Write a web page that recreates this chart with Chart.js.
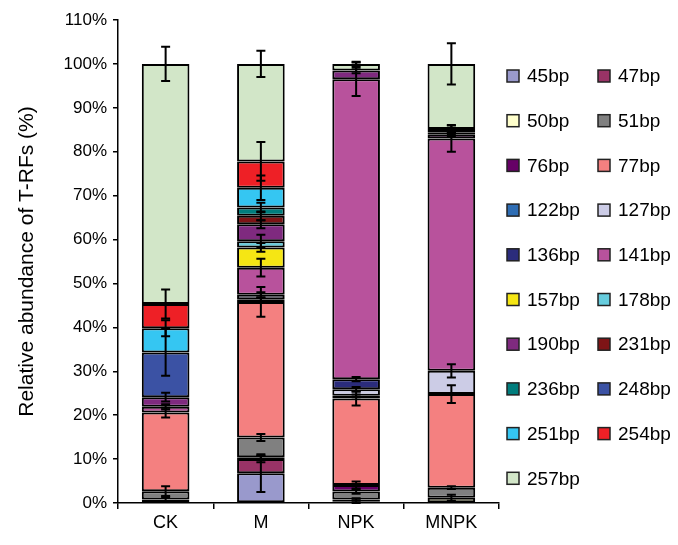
<!DOCTYPE html>
<html>
<head>
<meta charset="utf-8">
<script src="https://cdn.jsdelivr.net/npm/chart.js@4/dist/chart.umd.min.js"></script>
<style>
  html, body { margin: 0; padding: 0; background: #fff; }
  #wrap { width: 678px; height: 545px; position: relative; }
</style>
</head>
<body>
<div id="wrap"><canvas id="c" width="678" height="545"></canvas></div>
<script>
// Treatments
const categories = ['CK', 'M', 'NPK', 'MNPK'];

// T-RF fragment names (stacking order, bottom to top)
const fragments = ['45bp','47bp','50bp','51bp','76bp','77bp','122bp','127bp','136bp','141bp',
                   '157bp','178bp','190bp','231bp','236bp','248bp','251bp','254bp','257bp'];

// Relative abundance (%) per treatment: CK, M, NPK, MNPK
const bp45  = [0,    6.8,  0.3,  0];
const bp47  = [0.8,  3.2,  0.5,  0];
const bp50  = [0,    0.4,  0,    1.2];
const bp51  = [1.9,  4.5,  1.8,  2.3];
const bp76  = [0,    0,    1.5,  0];
const bp77  = [17.9, 30.9, 19.7, 21.3];
const bp122 = [0,    0.6,  0.6,  0];
const bp127 = [0,    1.0,  1.5,  5.3];
const bp136 = [0,    0,    2.3,  0];
const bp141 = [1.3,  6.2,  68.3, 52.9];
const bp157 = [0,    4.6,  0,    0];
const bp178 = [0,    1.4,  0,    0];
const bp190 = [2.2,  3.9,  2.0,  1.0];
const bp231 = [0,    1.9,  0,    0.3];
const bp236 = [0,    1.9,  0,    0];
const bp248 = [10.2, 0,    0,    0];
const bp251 = [5.5,  4.5,  0,    0];
const bp254 = [5.5,  6.0,  0,    0.9];
const bp257 = [54.7, 22.2, 1.5,  14.8];

// Standard errors (%) per treatment
const se45  = [0,   4.3, 0.3, 0];
const se47  = [0.5, 0.7, 0.3, 0];
const se50  = [0,   0.4, 0,   0.7];
const se51  = [1.1, 0.8, 0.5, 0.3];
const se76  = [0,   0,   0.8, 0];
const se77  = [1.1, 3.4, 1.6, 2.0];
const se122 = [0,   0.4, 0.3, 0];
const se127 = [0,   0.6, 0.5, 1.5];
const se136 = [0,   0,   0.5, 0];
const se141 = [0.6, 2.0, 3.8, 3.0];
const se157 = [0,   1.0, 0,   0];
const se178 = [0,   1.5, 0,   0];
const se190 = [1.0, 0.9, 0.6, 0.4];
const se231 = [0,   1.0, 0,   0.3];
const se236 = [0,   1.1, 0,   0];
const se248 = [5.3, 0,   0,   0];
const se251 = [1.8, 2.8, 0,   0];
const se254 = [3.3, 4.4, 0,   0.9];
const se257 = [3.9, 3.0, 0.5, 4.7];

// Y-axis tick values (%)
const yTicks = [0,10,20,30,40,50,60,70,80,90,100,110];

const values = [bp45,bp47,bp50,bp51,bp76,bp77,bp122,bp127,bp136,bp141,bp157,bp178,bp190,bp231,bp236,bp248,bp251,bp254,bp257];
const errors = [se45,se47,se50,se51,se76,se77,se122,se127,se136,se141,se157,se178,se190,se231,se236,se248,se251,se254,se257];
const colors = ['#9999CC','#993366','#FFFFCC','#808080','#660066','#F48080','#2E6DB4','#CCCCE6','#2B2C7C','#B8529C',
                '#F5E614','#66CCDD','#7F2A7F','#7E1416','#007D7D','#3B52A4','#35C6F2','#EE2026','#D2E6C8'];

const FONT = '"Liberation Sans", Arial, Helvetica, sans-serif';

const datasets = fragments.map((name, i) => ({
  label: name,
  data: values[i],
  errors: errors[i],
  backgroundColor: colors[i],
  borderColor: '#000',
  borderWidth: 2,
  borderSkipped: false,
  barPercentage: 0.5,
  categoryPercentage: 1.0
}));

// Error bars at the top of each stacked segment
const errorBarPlugin = {
  id: 'errorBars',
  afterDatasetsDraw(chart) {
    const ctx = chart.ctx;
    const yScale = chart.scales.y;
    const cum = categories.map(() => 0);
    ctx.save();
    ctx.strokeStyle = '#000';
    ctx.lineWidth = 2;
    chart.data.datasets.forEach((ds, di) => {
      const meta = chart.getDatasetMeta(di);
      ds.data.forEach((v, ci) => {
        cum[ci] += v;
        const e = ds.errors[ci];
        if (!v || !e) return;
        const x = meta.data[ci].x;
        const yTop = yScale.getPixelForValue(cum[ci] + e);
        const yBot = yScale.getPixelForValue(cum[ci] - e);
        const cap = 4.5;
        ctx.beginPath();
        ctx.moveTo(x, yTop); ctx.lineTo(x, yBot);
        ctx.moveTo(x - cap, yTop); ctx.lineTo(x + cap, yTop);
        ctx.moveTo(x - cap, yBot); ctx.lineTo(x + cap, yBot);
        ctx.stroke();
      });
    });
    ctx.restore();
  }
};

// Two-column legend to the right of the plot
const legendPlugin = {
  id: 'gridLegend',
  afterDraw(chart) {
    const ctx = chart.ctx;
    const colX = [507, 598];
    const y0 = 76, dy = 44.7, box = 12;
    ctx.save();
    ctx.font = '19px ' + FONT;
    ctx.textBaseline = 'middle';
    ctx.textAlign = 'left';
    chart.data.datasets.forEach((ds, i) => {
      const col = i % 2, row = Math.floor(i / 2);
      const x = colX[col], y = y0 + row * dy;
      ctx.fillStyle = ds.backgroundColor;
      ctx.fillRect(x, y - box / 2, box, box);
      ctx.strokeStyle = '#222';
      ctx.lineWidth = 1.5;
      ctx.strokeRect(x, y - box / 2, box, box);
      ctx.fillStyle = '#000';
      ctx.fillText(ds.label, x + 20, y + 1);
    });
    ctx.restore();
  }
};

new Chart(document.getElementById('c'), {
  type: 'bar',
  data: { labels: categories, datasets },
  plugins: [errorBarPlugin, legendPlugin],
  options: {
    responsive: false,
    animation: false,
    devicePixelRatio: 1,
    layout: { padding: { left: 0, right: 179, top: 20, bottom: 0 } },
    plugins: { legend: { display: false }, tooltip: { enabled: false } },
    scales: {
      x: {
        stacked: true,
        grid: { display: true, drawOnChartArea: false, offset: true, tickLength: 6, color: '#000', lineWidth: 1.5 },
        border: { display: true, color: '#000', width: 1.5 },
        ticks: { color: '#000', font: { family: FONT, size: 18 }, padding: 3 },
        afterFit(s) { s.height = 42; }
      },
      y: {
        stacked: true,
        min: 0, max: 110,
        afterBuildTicks(s) { s.ticks = yTicks.map(v => ({ value: v })); },
        grid: { display: true, drawOnChartArea: false, tickLength: 5, color: '#000', lineWidth: 1.5 },
        border: { display: true, color: '#000', width: 1.5 },
        ticks: { color: '#000', font: { family: FONT, size: 17 }, padding: 6, callback: v => v + '%' },
        title: { display: true, text: 'Relative abundance of T-RFs (%)', color: '#000',
                 font: { family: FONT, size: 21 }, padding: { top: 15, bottom: 0 } },
        afterFit(s) { s.width = 118; }
      }
    }
  }
});
</script>
</body>
</html>
